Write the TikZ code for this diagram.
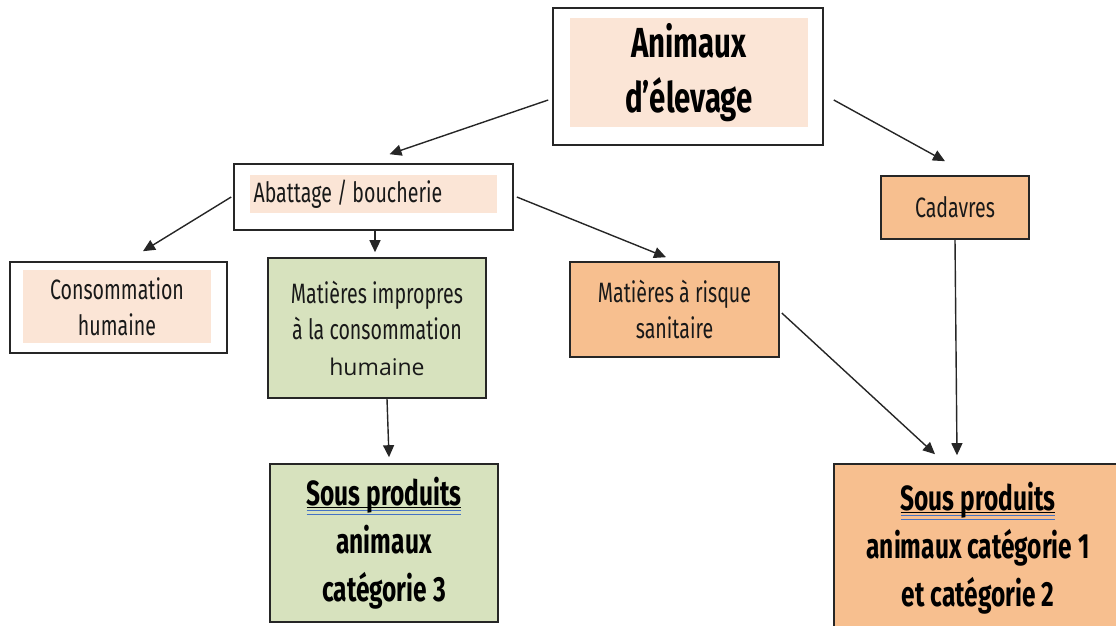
\documentclass[tikz,border=0pt]{standalone}
\usepackage{fontspec}
\setmainfont{Fira Sans}[FakeStretch=0.70]
\newfontfamily\plainf{Open Sans}
\usetikzlibrary{arrows.meta}
\definecolor{peach}{HTML}{FBE5D6}
\definecolor{orangef}{HTML}{F7BF8F}
\definecolor{greenf}{HTML}{D7E2BE}
\definecolor{ulblue}{HTML}{4472C4}
\newcommand\dblul[1]{\setbox0=\hbox{#1}%
  \makebox[0pt][l]{\rule[-3pt]{\wd0}{1.2pt}}%
  \makebox[0pt][l]{\textcolor{ulblue}{\rule[-6pt]{\wd0}{1.3pt}}}%
  \makebox[0pt][l]{\textcolor{ulblue}{\rule[-9.5pt]{\wd0}{1.3pt}}}%
  \box0}
\begin{document}
\begin{tikzpicture}[x=1pt,y=-1pt,
  box/.style={draw=black!85,line width=1.6pt,inner sep=0pt},
  fillin/.style={fill=peach,inner sep=0pt},
  small/.style={font=\fontsize{28}{36}\selectfont,align=center,text=black!90},
  big/.style={font=\fontsize{35}{48}\selectfont\bfseries,align=center,text=black},
  arr/.style={draw=black!85,line width=1.4pt,-{Triangle[length=12pt,width=11pt]}}]
\useasboundingbox (0,0) rectangle (1116,626);
\begin{scope}
\clip (0,0) rectangle (1116,626);
% top
\node[box,fill=white,minimum width=270pt,minimum height=137pt] (top) at (688,76.5) {};
\node[fillin,minimum width=238pt,minimum height=109pt] (topin) at (689,72.5) {};
\node[font=\fontsize{42}{55}\selectfont\bfseries,align=center] (toptxt) at (689,72.5) {Animaux\\d’élevage};
% abattage
\node[box,fill=white,minimum width=279pt,minimum height=66pt] (abat) at (373.5,197) {};
\node[fillin,minimum width=247pt,minimum height=38pt] (abatin) at (373.5,194) {};
\node[small,anchor=west] (abattxt) at (250,194) {Abattage / boucherie};
% cadavres
\node[box,fill=orangef,minimum width=148pt,minimum height=63pt,small] (cad) at (955,207.5) {Cadavres};
% consommation
\node[box,fill=white,minimum width=217pt,minimum height=91pt] (conso) at (118.5,307.5) {};
\node[fillin,minimum width=188pt,minimum height=73pt] (consoin) at (117,306.5) {};
\node[small] (consotxt) at (117,306.5) {Consommation\\humaine};
% impropres
\node[box,fill=greenf,minimum width=218pt,minimum height=140pt,small] (impr) at (377,328) {Matières impropres\\à la consommation\\{\plainf\fontsize{23}{36}\selectfont humaine}};
% risque
\node[box,fill=orangef,minimum width=209pt,minimum height=95pt,small] (risq) at (674.5,309.5) {Matières à risque\\sanitaire};
% cat 3
\node[box,fill=greenf,minimum width=228pt,minimum height=158pt,big] (cat3) at (384,543) {\dblul{Sous produits}\\animaux\\catégorie 3};
% cat 1 2
\node[box,fill=orangef,minimum width=288pt,minimum height=170pt] (cat12) at (978,549) {};
\node[big] (cat12txt) at (978,548) {\dblul{Sous produits}\\animaux catégorie 1\\et catégorie 2};
\end{scope}
% arrows
\draw[arr] ([xshift=-4pt,yshift=-23.5pt]top.west) -- ([xshift=16pt,yshift=9pt]abat.north);
\draw[arr] ([xshift=10pt,yshift=-23.5pt]top.east) -- ([xshift=-10pt,yshift=14pt]cad.north);
\draw[arr] ([xshift=-2pt]abat.west) -- ([xshift=24.5pt,yshift=10pt]conso.north);
\draw[arr] ([xshift=1.5pt]abat.south) -- ([xshift=-2pt,yshift=5pt]impr.north);
\draw[arr] ([xshift=3pt]abat.east) -- ([xshift=-8.5pt,yshift=4pt]risq.north);
\draw[arr] (cad.south) -- ([xshift=-21pt,yshift=8pt]cat12.north);
\draw[arr] ([xshift=2pt,yshift=-3.5pt]risq.east) -- ([xshift=-43pt,yshift=9pt]cat12.north);
\draw[arr] ([xshift=10pt]impr.south) -- ([xshift=5pt,yshift=6pt]cat3.north);
\end{tikzpicture}
\end{document}
